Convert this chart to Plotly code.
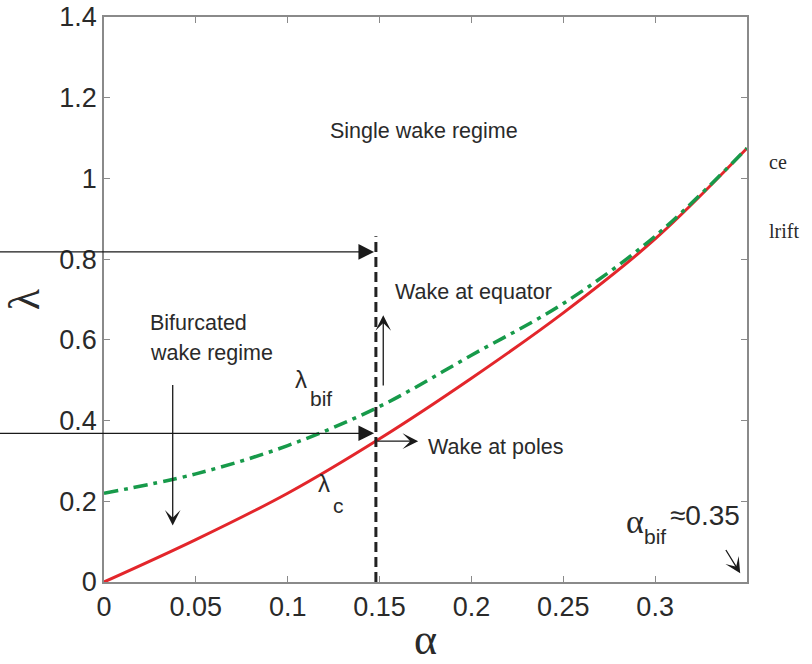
import plotly.graph_objects as go

# ---- data ----
alpha = [0, 0.05, 0.1, 0.15, 0.2, 0.25, 0.3, 0.35]
lambda_c = [0, 0.105, 0.22, 0.355, 0.505, 0.667, 0.85, 1.075]
lambda_bif = [0.22, 0.268, 0.338, 0.435, 0.562, 0.69, 0.857, 1.075]

x_tickvals = [0, 0.05, 0.1, 0.15, 0.2, 0.25, 0.3]
x_ticktext = ["0", "0.05", "0.1", "0.15", "0.2", "0.25", "0.3"]
y_tickvals = [0, 0.2, 0.4, 0.6, 0.8, 1.0, 1.2, 1.4]
y_ticktext = ["0", "0.2", "0.4", "0.6", "0.8", "1", "1.2", "1.4"]

alpha_cut = 0.148      # vertical dashed line position
alpha_cut_top = 0.857  # top of the dashed line
upper_level = 0.818    # upper horizontal arrow
lower_level = 0.3685   # lower horizontal arrow

SANS = "Liberation Sans, Arial, Helvetica, sans-serif"
SERIF = "Liberation Serif, Times New Roman, serif"
TXT = "#2a2a2a"

fig = go.Figure()
fig.add_trace(go.Scatter(x=alpha, y=lambda_c, mode="lines", line=dict(color="#e3262b", width=3, shape="spline"),
                         showlegend=False, hoverinfo="skip"))
fig.add_trace(go.Scatter(x=alpha, y=lambda_bif, mode="lines",
                         line=dict(color="#179a4a", width=3.5, shape="spline", dash="14px,6px,4px,6px"),
                         showlegend=False, hoverinfo="skip"))

fig.add_shape(type="line", xref="x", yref="y", x0=alpha_cut, x1=alpha_cut, y0=0, y1=alpha_cut_top,
              line=dict(color="#222222", width=3, dash="10px,5px"))

ann = []
def arrow(hx, hy, tx, ty, head, size, width=1.3):
    ann.append(dict(x=hx, y=hy, ax=tx, ay=ty, xref="x", yref="y", axref="x", ayref="y", text="",
                    showarrow=True, arrowhead=head, arrowsize=size, arrowwidth=width, arrowcolor="#1a1a1a"))

arrow(alpha_cut - 0.001, upper_level, -0.06, upper_level, 2, 2.4)
arrow(alpha_cut - 0.001, lower_level, -0.06, lower_level, 2, 2.4)
arrow(0.171, 0.349, alpha_cut, 0.349, 3, 2.0)
arrow(0.152, 0.661, 0.152, 0.483, 3, 2.0)
arrow(0.0374, 0.140, 0.0374, 0.492, 3, 2.0)
arrow(0.3463, 0.0215, 0.338, 0.083, 3, 2.0)

def text(x, y, s, size, family=SANS, xanchor="center", xref="x", yref="y"):
    ann.append(dict(x=x, y=y, xref=xref, yref=yref, text=s, showarrow=False, xanchor=xanchor, yanchor="middle",
                    font=dict(family=family, size=size, color=TXT)))

text(0.1742, 1.118, "Single wake regime", 21.5)
text(0.2012, 0.7187, "Wake at equator", 21.5)
text(0.2133, 0.3346, "Wake at poles", 21.5)
text(0.02396, 0.6418, "Bifurcated", 21.5, xanchor="left")
text(0.02396, 0.5668, "wake regime", 21.5, xanchor="left")
text(0.1075, 0.501, "λ", 24)
text(0.1182, 0.454, "bif", 21)
text(0.1195, 0.2434, "λ", 24)
text(0.1274, 0.190, "c", 21)
text(0.2888, 0.150, "α", 34, family=SERIF)
text(0.300, 0.112, "bif", 21)
text(0.3272, 0.164, "≈0.35", 28)
text((767 - 104) / 643, (582 - 162) / 565, "ce", 20, family=SERIF, xanchor="left", xref="paper", yref="paper")
text((767 - 104) / 643, (582 - 231) / 565, "lrift", 20, family=SERIF, xanchor="left", xref="paper", yref="paper")

axis_common = dict(showgrid=False, zeroline=False, showline=True, linecolor="#8a8a8a", linewidth=1.5,
                   mirror="ticks", ticks="inside", ticklen=6, tickcolor="#8a8a8a", tickwidth=1,
                   automargin=False, tickfont=dict(family=SANS, size=27, color=TXT))

fig.update_layout(
    width=812, height=664, margin=dict(l=104, r=65, t=17, b=82),
    paper_bgcolor="white", plot_bgcolor="white",
    xaxis=dict(range=[0, 0.35], tickmode="array", tickvals=x_tickvals, ticktext=x_ticktext,
               title=dict(text="α", font=dict(family=SERIF, size=44, color=TXT), standoff=6), **axis_common),
    yaxis=dict(range=[0, 1.4001], tickmode="array", tickvals=y_tickvals, ticktext=y_ticktext,
               title=dict(text="λ", font=dict(family=SERIF, size=44, color=TXT), standoff=14), **axis_common),
    annotations=ann,
)

fig.write_html("out.html")
